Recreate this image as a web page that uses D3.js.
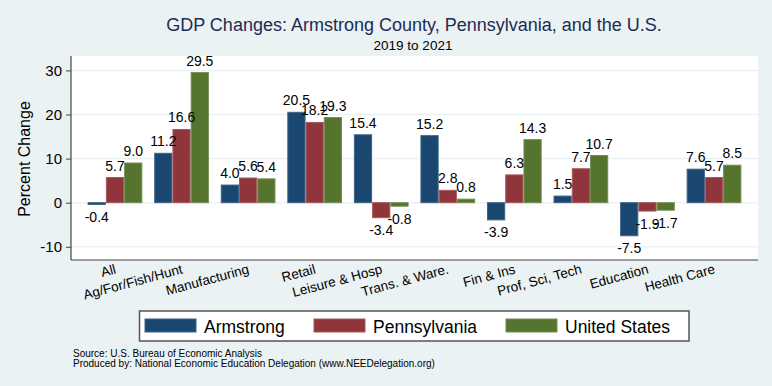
<!DOCTYPE html>
<html>
<head>
<meta charset="utf-8">
<script src="https://cdn.jsdelivr.net/npm/d3@7"></script>
<style>
  body { margin: 0; background: #eaf2f3; }
  svg { display: block; font-family: "Liberation Sans", Arial, Helvetica, sans-serif; }
</style>
</head>
<body>
<svg id="chart"></svg>
<script>
// data
const categories = [
  "All",
  "Ag/For/Fish/Hunt",
  "Manufacturing",
  "Retail",
  "Leisure & Hosp",
  "Trans. & Ware.",
  "Fin & Ins",
  "Prof, Sci, Tech",
  "Education",
  "Health Care",
];
const seriesNames = ["Armstrong", "Pennsylvania", "United States"];
const armstrong = [-0.4, 11.2, 4.0, 20.5, 15.4, 15.2, -3.9, 1.5, -7.5, 7.6];
const pennsylvania = [5.7, 16.6, 5.6, 18.2, -3.4, 2.8, 6.3, 7.7, -1.9, 5.7];
const unitedStates = [9.0, 29.5, 5.4, 19.3, -0.8, 0.8, 14.3, 10.7, -1.7, 8.5];
const yTicks = [-10, 0, 10, 20, 30];

const width = 772;
const height = 386;
const plot = { left: 71, right: 758, top: 56, bottom: 260 };
const colorList = ["#1a476f", "#90353b", "#55752f"];
const strokeList = ["#3d6489", "#a4585d", "#728d52"];

const svg = d3.select("#chart").attr("width", width).attr("height", height);

svg.append("rect")
  .attr("width", width)
  .attr("height", height)
  .attr("fill", "#eaf2f3");

// plot region
svg.append("rect")
  .attr("x", plot.left)
  .attr("y", plot.top)
  .attr("width", plot.right - plot.left)
  .attr("height", plot.bottom - plot.top)
  .attr("fill", "white");

const allSeries = [armstrong, pennsylvania, unitedStates];
const rows = categories.map((c, i) => ({
  category: c,
  values: allSeries.map((s, j) => ({ series: seriesNames[j], value: s[i], idx: j })),
}));

const x = d3.scaleBand()
  .domain(categories)
  .range([plot.left, plot.right])
  .paddingInner(0.178)
  .paddingOuter(0.25);

const xInner = d3.scaleBand()
  .domain(seriesNames)
  .range([0, x.bandwidth()]);

const y = d3.scaleLinear()
  .domain([-13, 33.27])
  .range([plot.bottom, plot.top]);

// grid lines
svg.append("g")
  .selectAll("line")
  .data(yTicks)
  .join("line")
  .attr("x1", plot.left)
  .attr("x2", plot.right)
  .attr("y1", (d) => y(d))
  .attr("y2", (d) => y(d))
  .attr("stroke", "#eaf2f3")
  .attr("stroke-width", 1.5);

// bars
const groups = svg.append("g")
  .selectAll("g.group")
  .data(rows)
  .join("g")
  .attr("class", "group")
  .attr("transform", (d) => `translate(${x(d.category)},0)`);

groups.selectAll("rect")
  .data((d) => d.values)
  .join("rect")
  .attr("x", (d) => xInner(d.series) + 0.5)
  .attr("width", xInner.bandwidth() - 1)
  .attr("y", (d) => y(Math.max(0, d.value)))
  .attr("height", (d) => Math.abs(y(d.value) - y(0)))
  .attr("fill", (d) => colorList[d.idx])
  .attr("stroke", (d) => strokeList[d.idx])
  .attr("stroke-width", 1);

// plain hyphen for negatives, like the original
const fmt = (v) => v.toFixed(1);
groups.selectAll("text")
  .data((d) => d.values)
  .join("text")
  .attr("x", (d) => xInner(d.series) + xInner.bandwidth() / 2)
  .attr("y", (d) => (d.value >= 0 ? y(d.value) - 7 : y(d.value) + 17.5))
  .attr("text-anchor", "middle")
  .attr("font-size", 14)
  .attr("fill", "black")
  .text((d) => fmt(d.value));

// y axis
const yAxis = svg.append("g")
  .attr("transform", `translate(${plot.left},0)`)
  .call(
    d3.axisLeft(y)
      .tickValues(yTicks)
      .tickFormat((d) => String(d))
      .tickSize(5)
      .tickPadding(4)
  );
yAxis.select(".domain")
  .attr("d", `M0,${plot.top}V${plot.bottom}`)
  .attr("stroke", "#444")
  .attr("stroke-width", 1.2);
yAxis.selectAll(".tick line").attr("stroke", "#444");
yAxis.selectAll(".tick text")
  .attr("font-size", 15)
  .attr("font-family", null)
  .attr("fill", "black");

// x axis line
svg.append("line")
  .attr("x1", plot.left)
  .attr("x2", plot.right)
  .attr("y1", plot.bottom)
  .attr("y2", plot.bottom)
  .attr("stroke", "#444")
  .attr("stroke-width", 1.2);

// x labels, tilted
svg.append("g")
  .selectAll("text")
  .data(categories)
  .join("text")
  .attr("transform", (d) => `translate(${x(d) + x.bandwidth() / 2 - 1},263) rotate(-15)`)
  .attr("text-anchor", "end")
  .attr("dy", "0.78em")
  .attr("font-size", 13.5)
  .attr("fill", "black")
  .text((d) => d);

// axis label
svg.append("text")
  .attr("transform", `translate(30,${(plot.top + plot.bottom) / 2 + 1}) rotate(-90)`)
  .attr("text-anchor", "middle")
  .attr("font-size", 16)
  .attr("fill", "black")
  .text("Percent Change");

// titles
svg.append("text")
  .attr("x", 414)
  .attr("y", 31)
  .attr("text-anchor", "middle")
  .attr("font-size", 18)
  .attr("fill", "#1e2b52")
  .text("GDP Changes: Armstrong County, Pennsylvania, and the U.S.");

svg.append("text")
  .attr("x", 413)
  .attr("y", 50)
  .attr("text-anchor", "middle")
  .attr("font-size", 13.5)
  .attr("fill", "black")
  .text("2019 to 2021");

// legend
const legend = svg.append("g");
legend.append("rect")
  .attr("x", 139.5)
  .attr("y", 311)
  .attr("width", 549.5)
  .attr("height", 30)
  .attr("fill", "white")
  .attr("stroke", "#555")
  .attr("stroke-width", 1.5);

const legendX = [145, 314, 506];
const items = legend.selectAll("g.item")
  .data(seriesNames)
  .join("g")
  .attr("class", "item")
  .attr("transform", (d, i) => `translate(${legendX[i]},0)`);

items.append("rect")
  .attr("y", 319)
  .attr("width", 51)
  .attr("height", 13)
  .attr("fill", (d, i) => colorList[i])
  .attr("stroke", (d, i) => strokeList[i]);

items.append("text")
  .attr("x", 59)
  .attr("y", 332.5)
  .attr("font-size", 17.5)
  .attr("fill", "black")
  .text((d) => d);

// notes
svg.append("g")
  .selectAll("text")
  .data([
    "Source: U.S. Bureau of Economic Analysis",
    "Produced by: National Economic Education Delegation (www.NEEDelegation.org)",
  ])
  .join("text")
  .attr("x", 73)
  .attr("y", (d, i) => 357 + i * 10)
  .attr("font-size", 10)
  .attr("fill", "black")
  .text((d) => d);
</script>
</body>
</html>
